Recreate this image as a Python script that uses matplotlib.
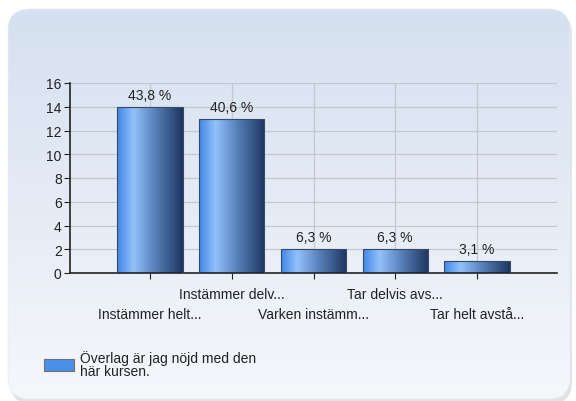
import numpy as np
import matplotlib.pyplot as plt
from matplotlib.patches import FancyBboxPatch, Rectangle
from matplotlib.colors import LinearSegmentedColormap

categories = ['Instämmer helt...', 'Instämmer delv...', 'Varken instämm...',
              'Tar delvis avs...', 'Tar helt avstå...']
counts = [14, 13, 2, 2, 1]
pct_labels = ['43,8 %', '40,6 %', '6,3 %', '6,3 %', '3,1 %']
legend_text = 'Överlag är jag nöjd med den\nhär kursen.'

plt.rcParams['font.family'] = ['Liberation Sans', 'DejaVu Sans']

fig = plt.figure(figsize=(5.76, 4.02), dpi=100)
fig.patch.set_facecolor('white')

# rounded background panel with vertical gradient
bg = fig.add_axes([0, 0, 1, 1], zorder=-10)
bg.set_xlim(0, 576)
bg.set_ylim(402, 0)
bg.axis('off')
shadow = FancyBboxPatch((10, 13), 562, 392, boxstyle='round,pad=0,rounding_size=22',
                        fc='#e2e2e2', ec='none', zorder=0)
bg.add_patch(shadow)
panel = FancyBboxPatch((8, 10), 562, 390, boxstyle='round,pad=0,rounding_size=22',
                       fc='none', ec='#e8ecf2', lw=0.6, zorder=2)
bg.add_patch(panel)
grad_cmap = LinearSegmentedColormap.from_list('bg', ['#d5e0f0', '#f5f7fb'])
g = np.linspace(0, 1, 256).reshape(-1, 1)
im = bg.imshow(g, cmap=grad_cmap, extent=[8, 570, 400, 10], aspect='auto', zorder=1)
im.set_clip_path(panel)
bg.set_xlim(0, 576)
bg.set_ylim(402, 0)

# main axes
ax = fig.add_axes([70 / 576, 1 - 274 / 402, (557 - 70) / 576, (274 - 84) / 402])
ax.set_facecolor('none')
x = np.arange(len(categories))
ax.set_yticks(range(0, 17, 2))
ax.set_xticks(np.arange(-1, 6))
ax.set_xticklabels([])
ax.grid(True, color='#c4c8cf', lw=0.9)
ax.set_axisbelow(True)
for s in ['top', 'right']:
    ax.spines[s].set_visible(False)
for s in ['left', 'bottom']:
    ax.spines[s].set_color('#222222')
    ax.spines[s].set_linewidth(1.2)
ax.tick_params(axis='both', direction='out', length=4, color='#222222', labelsize=10,
               labelcolor='#222222', pad=2)

bar_cmap = LinearSegmentedColormap.from_list(
    'bar', [(0, '#3f86e6'), (0.25, '#93c2fa'), (0.55, '#5c86c0'), (1, '#1c3560')])
hg = np.linspace(0, 1, 256).reshape(1, -1)
bars = ax.bar(x, counts, width=0.8, fc='none', ec='#3a4a66', lw=0.8, zorder=3)
for b in bars:
    x0, y0, w, h = b.get_x(), b.get_y(), b.get_width(), b.get_height()
    bim = ax.imshow(hg, cmap=bar_cmap, extent=[x0, x0 + w, y0, y0 + h],
                    aspect='auto', zorder=2)
    bim.set_clip_path(b)
ax.set_xlim(-0.98, 4.98)
ax.set_ylim(0, 16)

for xi, c, lab in zip(x, counts, pct_labels):
    ax.text(xi, c + 0.4, lab, ha='center', va='bottom', fontsize=10, color='#222222')

for xi, cat in enumerate(categories):
    yoff = -1.8 if xi % 2 == 1 else -3.45
    ax.text(xi, yoff, cat, ha='center', va='center', fontsize=10, color='#222222',
            clip_on=False)

# legend
bg.add_patch(Rectangle((44, 360), 30, 12, fc='#4a90e8', ec='#707070', lw=0.8, zorder=3))
bg.text(80, 365, legend_text, ha='left', va='center', fontsize=10, color='#222222',
        linespacing=0.95, zorder=3)

fig.savefig('out.png', dpi=100)
